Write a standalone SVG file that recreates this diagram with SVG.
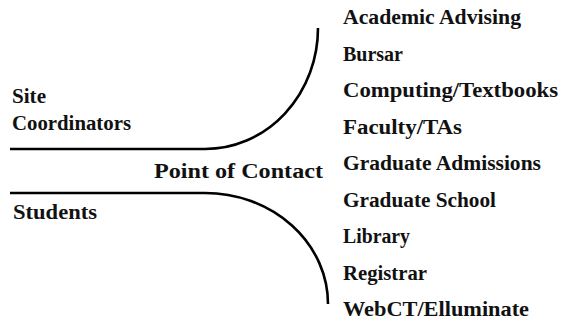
<svg xmlns="http://www.w3.org/2000/svg" width="573" height="323" viewBox="0 0 573 323">
  <style>
    .lbl { font-family: "Liberation Serif", "Times New Roman", serif; font-weight: bold; font-size: 20px; fill: #111; }
    .wire { fill: none; stroke: #000; stroke-width: 2.6; stroke-linecap: butt; }
  </style>
  <rect width="573" height="323" fill="#fff"/>

  <!-- connectors: two incoming lines that bend away from the point of contact -->
  <g id="connectors">
    <path class="wire" d="M10 149 H205 A113 121 0 0 0 318 28"/>
    <path class="wire" d="M10 193 H205 A123 111 0 0 1 328 304"/>
  </g>

  <g id="site-coordinators">
    <text class="lbl" x="12" y="103" textLength="34" lengthAdjust="spacingAndGlyphs">Site</text>
    <text class="lbl" x="12" y="130" textLength="119" lengthAdjust="spacingAndGlyphs">Coordinators</text>
  </g>
  <g id="students">
    <text class="lbl" x="13" y="219" textLength="84" lengthAdjust="spacingAndGlyphs">Students</text>
  </g>
  <g id="point-of-contact">
    <text class="lbl" x="154" y="178" textLength="169" lengthAdjust="spacingAndGlyphs">Point of Contact</text>
  </g>

  <!-- offices reached through the point of contact -->
  <g id="academic-advising"><text class="lbl" x="343" y="24" textLength="178" lengthAdjust="spacingAndGlyphs">Academic Advising</text></g>
  <g id="bursar"><text class="lbl" x="343" y="60.5" textLength="60" lengthAdjust="spacingAndGlyphs">Bursar</text></g>
  <g id="computing-textbooks"><text class="lbl" x="343" y="97" textLength="215" lengthAdjust="spacingAndGlyphs">Computing/Textbooks</text></g>
  <g id="faculty-tas"><text class="lbl" x="343" y="133.5" textLength="119" lengthAdjust="spacingAndGlyphs">Faculty/TAs</text></g>
  <g id="graduate-admissions"><text class="lbl" x="343" y="170" textLength="198" lengthAdjust="spacingAndGlyphs">Graduate Admissions</text></g>
  <g id="graduate-school"><text class="lbl" x="343" y="206.5" textLength="153" lengthAdjust="spacingAndGlyphs">Graduate School</text></g>
  <g id="library"><text class="lbl" x="343" y="243" textLength="67" lengthAdjust="spacingAndGlyphs">Library</text></g>
  <g id="registrar"><text class="lbl" x="343" y="279.5" textLength="84" lengthAdjust="spacingAndGlyphs">Registrar</text></g>
  <g id="webct-elluminate"><text class="lbl" x="343" y="316" textLength="186" lengthAdjust="spacingAndGlyphs">WebCT/Elluminate</text></g>
</svg>
